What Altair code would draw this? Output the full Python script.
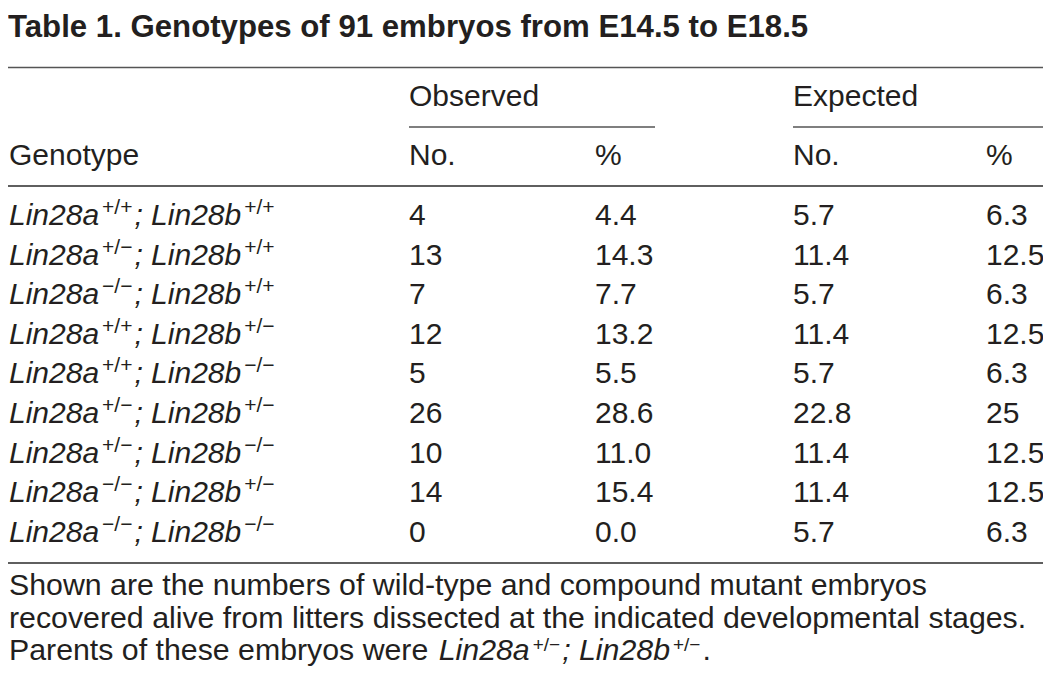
import altair as alt
import pandas as pd

# ---------------- data ----------------
title = "Table 1. Genotypes of 91 embryos from E14.5 to E18.5"
group_headers = ["Observed", "Expected"]
sub_headers = ["No.", "%", "No.", "%"]
row_header = "Genotype"
gene_a = "Lin28a"
gene_b = "Lin28b"
genotype_a = ["+/+", "+/−", "−/−", "+/+", "+/+", "+/−", "+/−", "−/−", "−/−"]
genotype_b = ["+/+", "+/+", "+/+", "+/−", "−/−", "+/−", "−/−", "+/−", "−/−"]
observed_no = [4, 13, 7, 12, 5, 26, 10, 14, 0]
observed_pct = [4.4, 14.3, 7.7, 13.2, 5.5, 28.6, 11.0, 15.4, 0.0]
expected_no = [5.7, 11.4, 5.7, 11.4, 5.7, 22.8, 11.4, 11.4, 5.7]
expected_pct = [6.3, 12.5, 6.3, 12.5, 6.3, 25, 12.5, 12.5, 6.3]
footnote_lines = [
    "Shown are the numbers of wild-type and compound mutant embryos",
    "recovered alive from litters dissected at the indicated developmental stages.",
    "Parents of these embryos were",
]
parents_a = "+/−"
parents_b = "+/−"

# ---------------- layout (page pixels) ----------------
W, H = 1035, 666
FONT = "Liberation Sans"
INK = "#231f20"
BODY = 30
FOOT = 30.3
TITLE = 31.2
SUP = 21
SUP_RAISE = 11
FOOT_SUP = 19
FOOT_SUP_RAISE = 9

LEFT = 9
COL_X = [409, 595, 793, 986]
Y_TITLE = 37
Y_TOP_RULE = 67.5
Y_GROUP = 106
Y_GROUP_RULE = 127
Y_SUB = 165
Y_HEAD_RULE = 186
Y_ROW0 = 225
ROW_STEP = 39.6
Y_BOTTOM_RULE = 563
Y_FOOT0 = 595
FOOT_STEP = 32.5

# approximate Arial / Liberation Sans advance widths (em)
ADV = {"L": .556, "i": .222, "n": .556, "2": .556, "8": .556, "a": .556, "b": .556,
       ";": .278, " ": .278, "+": .584, "/": .278, "−": .584, ".": .278, "P": .667,
       "r": .333, "e": .556, "t": .278, "s": .5, "o": .556, "f": .278, "h": .556,
       "m": .833, "y": .5, "w": .722}


def width(s, size):
    return sum(ADV.get(c, .556) for c in s) * size


regular, foot, bold, italic, foot_italic, sup, foot_sup = [], [], [], [], [], [], []

bold.append(dict(x=LEFT - 1, y=Y_TITLE, t=title))

for i, g in enumerate(group_headers):
    regular.append(dict(x=COL_X[2 * i], y=Y_GROUP, t=g))
regular.append(dict(x=LEFT, y=Y_SUB, t=row_header))
for x, s in zip(COL_X, sub_headers):
    regular.append(dict(x=x, y=Y_SUB, t=s))

for i in range(len(observed_no)):
    y = Y_ROW0 + i * ROW_STEP
    xa_sup = LEFT + width(gene_a, BODY) + 3
    xb = xa_sup + width(genotype_a[i], SUP) + 2
    xb_sup = xb + width("; " + gene_b, BODY) + 3
    italic.append(dict(x=LEFT, y=y, t=gene_a))
    sup.append(dict(x=xa_sup, y=y - SUP_RAISE, t=genotype_a[i]))
    italic.append(dict(x=xb, y=y, t="; " + gene_b))
    sup.append(dict(x=xb_sup, y=y - SUP_RAISE, t=genotype_b[i]))
    cells = [f"{observed_no[i]}", f"{observed_pct[i]:.1f}",
             f"{expected_no[i]:.1f}", f"{expected_pct[i]:g}"]
    for x, s in zip(COL_X, cells):
        regular.append(dict(x=x, y=y, t=s))

for k, line in enumerate(footnote_lines):
    foot.append(dict(x=LEFT, y=Y_FOOT0 + k * FOOT_STEP, t=line))
yf = Y_FOOT0 + 2 * FOOT_STEP
x0 = LEFT + width(footnote_lines[2] + " ", FOOT) + 2
foot_italic.append(dict(x=x0, y=yf, t=gene_a))
x1 = x0 + width(gene_a, FOOT) + 3
foot_sup.append(dict(x=x1, y=yf - FOOT_SUP_RAISE, t=parents_a))
x2 = x1 + width(parents_a, FOOT_SUP) + 2
foot_italic.append(dict(x=x2, y=yf, t="; " + gene_b))
x3 = x2 + width("; " + gene_b, FOOT) + 3
foot_sup.append(dict(x=x3, y=yf - FOOT_SUP_RAISE, t=parents_b))
x4 = x3 + width(parents_b, FOOT_SUP) + 2
foot.append(dict(x=x4, y=yf, t="."))

rules = [
    dict(x=LEFT - 1, x2=W + 8, y=Y_TOP_RULE, c="#555555"),
    dict(x=COL_X[0], x2=655, y=Y_GROUP_RULE, c="#555555"),
    dict(x=COL_X[2], x2=W + 8, y=Y_GROUP_RULE, c="#555555"),
    dict(x=LEFT - 1, x2=W + 8, y=Y_HEAD_RULE, c="#2a2a2a"),
    dict(x=LEFT - 1, x2=W + 8, y=Y_BOTTOM_RULE, c="#2a2a2a"),
]

xs = alt.Scale(domain=[8, 8 + W], nice=False, zero=False)
ys = alt.Scale(domain=[8, 8 + H], nice=False, zero=False, reverse=True)
X = alt.X("x:Q", scale=xs, axis=None)
Y = alt.Y("y:Q", scale=ys, axis=None)


def text_layer(rows, size, weight="normal", style="normal"):
    return alt.Chart(pd.DataFrame(rows)).mark_text(
        align="left", baseline="alphabetic", font=FONT, fontSize=size,
        fontWeight=weight, fontStyle=style, color=INK,
    ).encode(x=X, y=Y, text="t:N")


rule_layer = alt.Chart(pd.DataFrame(rules)).mark_rule(strokeWidth=1.5).encode(
    x=X, x2="x2:Q", y=Y, color=alt.Color("c:N", scale=None)
)

chart = alt.layer(
    rule_layer,
    text_layer(bold, TITLE, weight="bold"),
    text_layer(regular, BODY),
    text_layer(foot, FOOT),
    text_layer(italic, BODY, style="italic"),
    text_layer(foot_italic, FOOT, style="italic"),
    text_layer(sup, SUP),
    text_layer(foot_sup, FOOT_SUP),
).properties(
    width=W, height=H, padding=0,
    autosize=alt.AutoSizeParams(type="none"),
    background="white",
).configure_view(stroke=None)

chart.save("out.html", embed_options={"renderer": "svg", "actions": False})
